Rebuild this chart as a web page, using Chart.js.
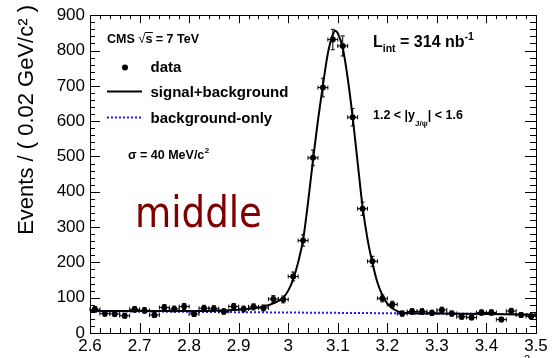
<!DOCTYPE html>
<html>
<head>
<meta charset="utf-8">
<script src="https://cdn.jsdelivr.net/npm/chart.js@4"></script>
<style>
  html, body { margin: 0; padding: 0; background: #fff; }
  canvas { display: block; }
</style>
</head>
<body>
<canvas id="jpsi-chart" width="555" height="358"></canvas>
<script>
// dimuon mass bins (GeV/c^2), bin width 0.02
let massBins = [2.61, 2.63, 2.65, 2.67, 2.69, 2.71, 2.73, 2.75, 2.77, 2.79,
                2.81, 2.83, 2.85, 2.87, 2.89, 2.91, 2.93, 2.95, 2.97, 2.99,
                3.01, 3.03, 3.05, 3.07, 3.09, 3.11, 3.13, 3.15, 3.17, 3.19,
                3.21, 3.23, 3.25, 3.27, 3.29, 3.31, 3.33, 3.35, 3.37, 3.39,
                3.41, 3.43, 3.45, 3.47, 3.49];
let counts = [67, 55, 54, 49, 67, 64, 51, 72, 68, 75,
              54, 70, 69, 61, 75, 68, 74, 71, 96, 95,
              160, 262, 496, 695, 831, 813, 611, 352, 203, 98,
              81, 55, 61, 61, 57, 65, 55, 46, 44, 58,
              58, 38, 62, 51, 47];

// signal+background fit
let fitMass = [2.60, 2.70, 2.80, 2.85, 2.90, 2.93, 2.95, 2.97, 2.99, 3.00,
               3.01, 3.02, 3.03, 3.04, 3.05, 3.06, 3.07, 3.08, 3.09, 3.095,
               3.10, 3.11, 3.12, 3.13, 3.14, 3.15, 3.16, 3.17, 3.18, 3.19,
               3.20, 3.21, 3.22, 3.23, 3.25, 3.30, 3.40, 3.50];
let fitVals = [62, 62, 62, 63, 66, 70, 75, 84, 100, 120,
               152, 200, 264, 370, 490, 602, 702, 792, 845, 856,
               849, 808, 722, 612, 484, 358, 266, 198, 143, 107,
               83, 70, 62, 58, 56, 55, 54, 52];

// background-only
let bkgMass = [2.60, 3.50];
let bkgVals = [62, 53];

let xTicks = [2.6, 2.7, 2.8, 2.9, 3.0, 3.1, 3.2, 3.3, 3.4, 3.5];
let yTicks = [0, 100, 200, 300, 400, 500, 600, 700, 800, 900];

let FONT = "'Liberation Sans', Arial, Helvetica, sans-serif";

let pts = (xs, ys) => xs.map((v, i) => ({x: v, y: ys[i]}));

let errorBars = {
    id: 'errorBars',
    afterDatasetsDraw(chart) {
        let {ctx, scales: {x, y}} = chart;
        ctx.save();
        ctx.strokeStyle = '#000';
        ctx.lineWidth = 1;
        ctx.beginPath();
        counts.forEach((n, i) => {
            let m = massBins[i], e = Math.sqrt(n);
            let px = x.getPixelForValue(m), py = y.getPixelForValue(n);
            let x1 = x.getPixelForValue(m - 0.01), x2 = x.getPixelForValue(m + 0.01);
            let y1 = y.getPixelForValue(n + e), y2 = y.getPixelForValue(n - e);
            ctx.moveTo(x1, py); ctx.lineTo(x2, py);
            ctx.moveTo(x1, py - 2); ctx.lineTo(x1, py + 2);
            ctx.moveTo(x2, py - 2); ctx.lineTo(x2, py + 2);
            ctx.moveTo(px, y1); ctx.lineTo(px, y2);
            ctx.moveTo(px - 2, y1); ctx.lineTo(px + 2, y1);
            ctx.moveTo(px - 2, y2); ctx.lineTo(px + 2, y2);
        });
        ctx.stroke();
        ctx.restore();
    }
};

let frame = {
    id: 'frame',
    afterDraw(chart) {
        let {ctx, chartArea: a, scales: {x, y}} = chart;
        ctx.save();
        ctx.strokeStyle = '#000';
        ctx.lineWidth = 1;
        ctx.strokeRect(Math.round(a.left) + 0.5, Math.round(a.top) + 0.5,
                       Math.round(a.right - a.left), Math.round(a.bottom - a.top));
        ctx.beginPath();
        for (let i = 0; i <= 45; i++) {
            let px = Math.round(x.getPixelForValue(2.6 + i * 0.02)) + 0.5;
            let major = i % 5 === 0;
            ctx.moveTo(px, a.bottom); ctx.lineTo(px, a.bottom - (major ? 10 : 5));
            ctx.moveTo(px, a.top); ctx.lineTo(px, a.top + (major ? 8 : 4));
        }
        for (let i = 0; i <= 45; i++) {
            let py = Math.round(y.getPixelForValue(i * 20)) + 0.5;
            let major = i % 5 === 0;
            ctx.moveTo(a.left, py); ctx.lineTo(a.left + (major ? 10 : 5), py);
            ctx.moveTo(a.right, py); ctx.lineTo(a.right - (major ? 11 : 6), py);
        }
        ctx.stroke();

        // y title
        ctx.fillStyle = '#000';
        ctx.save();
        ctx.translate(33, 5);
        ctx.rotate(-Math.PI / 2);
        ctx.textAlign = 'right';
        ctx.font = '22px ' + FONT;
        ctx.fillText('Events / ( 0.02 GeV/c\u00b2 )', 0, 0);
        ctx.restore();

        // cut-off x title fragment
        ctx.font = '11px ' + FONT;
        ctx.fillText('2', 524, 363);

        // CMS label
        let tx = 107;
        ctx.font = 'bold 12.5px ' + FONT;
        ctx.fillText('CMS ', tx, 42.7);
        tx += ctx.measureText('CMS ').width;
        ctx.font = '13px ' + FONT;
        ctx.fillText('\u221a', tx, 43);
        tx += ctx.measureText('\u221a').width;
        ctx.font = 'bold 12.5px ' + FONT;
        ctx.fillText('s', tx, 42.7);
        let sw = ctx.measureText('s').width;
        ctx.fillRect(tx - 0.5, 32, sw + 1, 1);
        tx += sw;
        ctx.fillText(' = 7 TeV', tx, 42.7);

        // legend
        ctx.beginPath();
        ctx.arc(125, 67.5, 3, 0, Math.PI * 2);
        ctx.fill();
        ctx.lineWidth = 2;
        ctx.beginPath();
        ctx.moveTo(107, 91.5); ctx.lineTo(142, 91.5);
        ctx.stroke();
        ctx.strokeStyle = '#1a1aff';
        ctx.setLineDash([2, 2]);
        ctx.beginPath();
        ctx.moveTo(107, 117.5); ctx.lineTo(142, 117.5);
        ctx.stroke();
        ctx.setLineDash([]);
        ctx.font = 'bold 15px ' + FONT;
        ctx.fillText('data', 150.5, 71.7);
        ctx.fillText('signal+background', 150.5, 96.5);
        ctx.fillText('background-only', 150.5, 123);

        ctx.font = 'bold 12.5px ' + FONT;
        ctx.fillText('\u03c3 = 40 MeV/c', 128, 158.5);
        let sg = ctx.measureText('\u03c3 = 40 MeV/c').width;
        ctx.font = 'bold 8px ' + FONT;
        ctx.fillText('2', 128 + sg + 0.5, 153);

        // luminosity
        tx = 373;
        ctx.font = 'bold 16px ' + FONT;
        ctx.fillText('L', tx, 46.7);
        tx += ctx.measureText('L').width;
        ctx.font = 'bold 10.5px ' + FONT;
        ctx.fillText('int', tx, 51.5);
        tx += ctx.measureText('int').width;
        ctx.font = 'bold 16px ' + FONT;
        ctx.fillText(' = 314 nb', tx, 46.7);
        tx += ctx.measureText(' = 314 nb').width;
        ctx.font = 'bold 10.5px ' + FONT;
        ctx.fillText('-1', tx, 40);

        // rapidity bin
        tx = 373;
        ctx.font = 'bold 12.5px ' + FONT;
        ctx.fillText('1.2 < |y', tx, 119.3);
        tx += ctx.measureText('1.2 < |y').width;
        ctx.font = 'bold 8px ' + FONT;
        ctx.fillText('J/\u03c8', tx, 125.5);
        tx += ctx.measureText('J/\u03c8').width;
        ctx.font = 'bold 12.5px ' + FONT;
        ctx.fillText('| < 1.6', tx, 119.3);

        // "middle"
        ctx.font = "42px 'DejaVu Sans', sans-serif";
        ctx.fillStyle = '#800000';
        let mw = ctx.measureText('middle').width;
        ctx.save();
        ctx.translate(135, 226.5);
        ctx.scale(127 / mw, 1);
        ctx.fillText('middle', 0, 0);
        ctx.restore();

        ctx.restore();
    }
};

let ctx = document.getElementById('jpsi-chart'),

 chartData = {
    datasets: [{
            label: 'data',
            data: pts(massBins, counts),
            showLine: false,
            pointRadius: 3,
            pointHoverRadius: 3,
            pointBackgroundColor: '#000',
            pointBorderColor: '#000',
            pointBorderWidth: 0,
            order: 1
        }, {
            label: 'signal+background',
            data: pts(fitMass, fitVals),
            borderColor: '#000',
            borderWidth: 2,
            pointRadius: 0,
            fill: false,
            cubicInterpolationMode: 'monotone',
            order: 2
        }, {
            label: 'background-only',
            data: pts(bkgMass, bkgVals),
            borderColor: '#1a1aff',
            borderWidth: 2,
            borderDash: [2, 2],
            pointRadius: 0,
            fill: false,
            order: 3
        }]
},

 chartOptions = {
    responsive: false,
    animation: false,
    devicePixelRatio: 1,
    layout: {
        padding: {left: 0, right: 19, top: 13, bottom: 0}
    },
    plugins: {
        legend: {display: false},
        tooltip: {enabled: false}
    },
    scales: {
        x: {
            type: 'linear',
            min: 2.6,
            max: 3.5,
            afterFit: s => { s.height = 25; },
            afterBuildTicks: s => { s.ticks = xTicks.map(v => ({value: v})); },
            grid: {display: false, drawTicks: false},
            border: {display: false},
            ticks: {
                padding: 3,
                maxRotation: 0,
                color: '#000',
                font: {family: FONT, size: 17},
                callback: v => String(Number(v.toFixed(1)))
            }
        },
        y: {
            type: 'linear',
            min: 0,
            max: 900,
            afterFit: s => { s.width = 90; },
            afterBuildTicks: s => { s.ticks = yTicks.map(v => ({value: v})); },
            grid: {display: false, drawTicks: false},
            border: {display: false},
            ticks: {
                padding: 5,
                color: '#000',
                font: {family: FONT, size: 17}
            }
        }
    }
},

 jpsiChart = new Chart(ctx, {
    type: 'line',
    data: chartData,
    options: chartOptions,
    plugins: [errorBars, frame]
});
</script>
</body>
</html>
